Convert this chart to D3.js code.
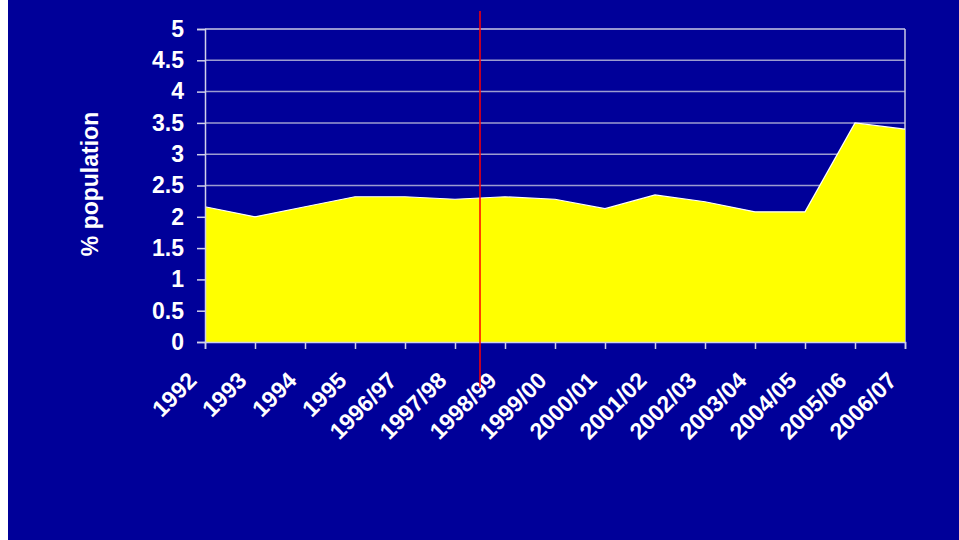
<!DOCTYPE html>
<html><head><meta charset="utf-8">
<script src="https://cdn.jsdelivr.net/npm/d3@7"></script>
<style>
html,body{margin:0;padding:0;background:#fff;}
svg{display:block;}
</style></head>
<body>
<svg id="c" width="959" height="540"></svg>
<script>
const categories = ["1992","1993","1994","1995","1996/97","1997/98","1998/99","1999/00","2000/01","2001/02","2002/03","2003/04","2004/05","2005/06","2006/07"];
const values = [2.16,2.00,2.16,2.32,2.32,2.28,2.32,2.28,2.13,2.35,2.24,2.08,2.08,3.50,3.40];
const yTicks = [0,0.5,1,1.5,2,2.5,3,3.5,4,4.5,5];
const yLabel = "% population";
const markerBetween = ["1997/98","1998/99"];

(function(){
const svg = d3.select("#c");
svg.append("rect").attr("x",8).attr("y",0).attr("width",951).attr("height",540).attr("fill","#000099");

const pLeft=205, pRight=905, pTop=29, pBottom=342;
const x = d3.scalePoint().domain(categories).range([pLeft,pRight]);
const y = d3.scaleLinear().domain([0,5]).range([pBottom,pTop]);
const font = "Arial, 'Liberation Sans', sans-serif";
const fs = 23;

// gridlines
svg.append("g").selectAll("line").data(yTicks.filter(t=>t>0)).join("line")
  .attr("x1",pLeft).attr("x2",pRight).attr("y1",d=>y(d)).attr("y2",d=>y(d))
  .attr("stroke",d=>d===5?"#c8c8e6":"#9c9cd0").attr("stroke-width",1.5);
// right border
svg.append("line").attr("x1",pRight).attr("x2",pRight).attr("y1",pTop).attr("y2",pBottom)
  .attr("stroke","#c8c8e6").attr("stroke-width",1.5);

// area
const area = d3.area().x((d,i)=>x(categories[i])).y0(y(0)).y1(d=>y(d));
svg.append("path").datum(values).attr("d",area).attr("fill","#ffff00");
const line = d3.line().x((d,i)=>x(categories[i])).y(d=>y(d));
svg.append("path").datum(values).attr("d",line).attr("fill","none").attr("stroke","#ffffff").attr("stroke-width",1.2);

// y axis
const yAxis = svg.append("g").attr("transform",`translate(${pLeft},0)`)
  .call(d3.axisLeft(y).tickValues(yTicks).tickSize(8).tickPadding(13).tickFormat(d3.format("~g")));
yAxis.attr("font-size",fs).attr("font-family",font);
yAxis.select(".domain").attr("stroke","#d0d0ea").attr("stroke-width",1.5);
yAxis.selectAll(".tick line").attr("stroke","#d0d0ea").attr("stroke-width",1.5);
yAxis.selectAll("text").attr("fill","#fff").attr("font-family",font).attr("font-weight","bold").attr("font-size",fs);

// x axis
const xAxis = svg.append("g").attr("transform",`translate(0,${pBottom})`)
  .call(d3.axisBottom(x).tickSize(7).tickFormat(""));
xAxis.select(".domain").attr("stroke","#d0d0ea").attr("stroke-width",1.5);
xAxis.selectAll(".tick line").attr("stroke","#d0d0ea").attr("stroke-width",1.5);
svg.append("g").selectAll("text").data(categories).join("text")
  .attr("transform",d=>`translate(${x(d)-7},${pBottom+40}) rotate(-45)`)
  .attr("text-anchor","end")
  .attr("fill","#fff").attr("font-family",font).attr("font-weight","bold").attr("font-size",fs)
  .text(d=>d);

// y label
svg.append("text").attr("transform","translate(98,184) rotate(-90)")
  .attr("text-anchor","middle").attr("fill","#fff").attr("font-family",font)
  .attr("font-weight","bold").attr("font-size",fs).text(yLabel);

// red marker line
const mx = (x(markerBetween[0])+x(markerBetween[1]))/2;
svg.append("line").attr("x1",mx).attr("x2",mx).attr("y1",11).attr("y2",388)
  .attr("stroke","#ff0000").attr("stroke-width",1.5);
})();
</script>
</body></html>
